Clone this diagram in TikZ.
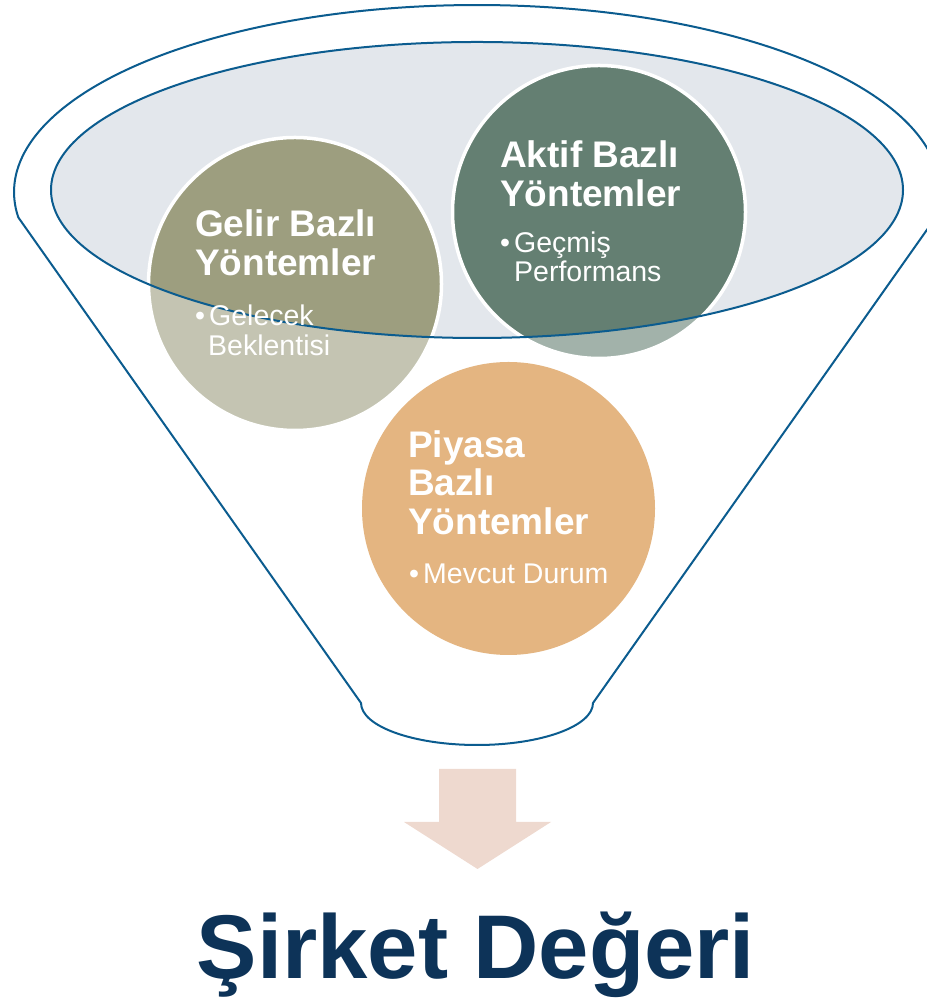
\documentclass[tikz,border=0pt]{standalone}
\usepackage{fontspec}
\setmainfont{Liberation Sans}
\definecolor{funnelline}{HTML}{0B5C8F}
\definecolor{bowlfill}{HTML}{E3E7EC}
\definecolor{gelirc}{HTML}{9D9E7F}
\definecolor{aktifc}{HTML}{647F72}
\definecolor{piyasac}{HTML}{E4B581}
\definecolor{arrowc}{HTML}{EED9CF}
\definecolor{titlec}{HTML}{0D3358}
\tikzset{
  outline/.style={draw=funnelline, line width=2pt},
  disc/.style={draw=white, line width=3.5pt},
  head/.style={anchor=base west, inner sep=0pt, text=white, font=\fontsize{37}{39}\selectfont\bfseries},
  body/.style={anchor=base west, inner sep=0pt, text=white, font=\fontsize{28.5}{30}\selectfont},
}
\newcommand{\bulitem}{\makebox[14pt][l]{•}}
\begin{document}
\begin{tikzpicture}[x=1pt,y=1pt]
\useasboundingbox (0,0) rectangle (926,1000);
% bowl of the funnel
\fill[bowlfill] (477,810) ellipse [x radius=426, y radius=148];
% circles
\draw[disc, fill=gelirc] (295,716) circle [radius=146.5];
\draw[disc, fill=aktifc] (599,788) circle [radius=146.5];
% funnel body veil (lightens what is outside the bowl)
\fill[white, opacity=0.4, even odd rule] (-20,-20) rectangle (960,1020) (477,810) ellipse [x radius=426, y radius=148];
\fill[piyasac] (508.5,491.5) circle [radius=146.5];
% outlines
\draw[outline] (477,810) ellipse [x radius=426, y radius=148];
\draw[outline, line join=round] (18.3,782.6) -- (361,297)
  arc[start angle=180, end angle=360, x radius=116, y radius=42]
  -- (935.7,782.6)
  arc[start angle=-7.8, end angle=187.8, x radius=463, y radius=187] -- cycle;
% arrow
\fill[arrowc] (439,231) -- (516,231) -- (516,178) -- (551,178) -- (477.5,131) -- (404,178) -- (439,178) -- cycle;
% texts
\node[head] (g1) at (195,763) {Gelir Bazlı};
\node[head] (g2) at (195,724.5) {Yöntemler};
\node[body] (g3) at (195,674) {\bulitem Gelecek};
\node[body] (g4) at (208,644.3) {Beklentisi};
\node[head] (a1) at (500,832) {Aktif Bazlı};
\node[head] (a2) at (500,793.5) {Yöntemler};
\node[body] (a3) at (500,747) {\bulitem Geçmiş};
\node[body] (a4) at (514,718) {Performans};
\node[head] (p1) at (408,542.7) {Piyasa};
\node[head] (p2) at (408,504.2) {Bazlı};
\node[head] (p3) at (408,465.7) {Yöntemler};
\node[body] (p4) at (409,416.7) {\bulitem Mevcut Durum};
\node[anchor=base, inner sep=0pt, text=titlec, font=\fontsize{90.5}{96}\selectfont\bfseries] (title) at (476,21) {Şirket Değeri};
\end{tikzpicture}
\end{document}
